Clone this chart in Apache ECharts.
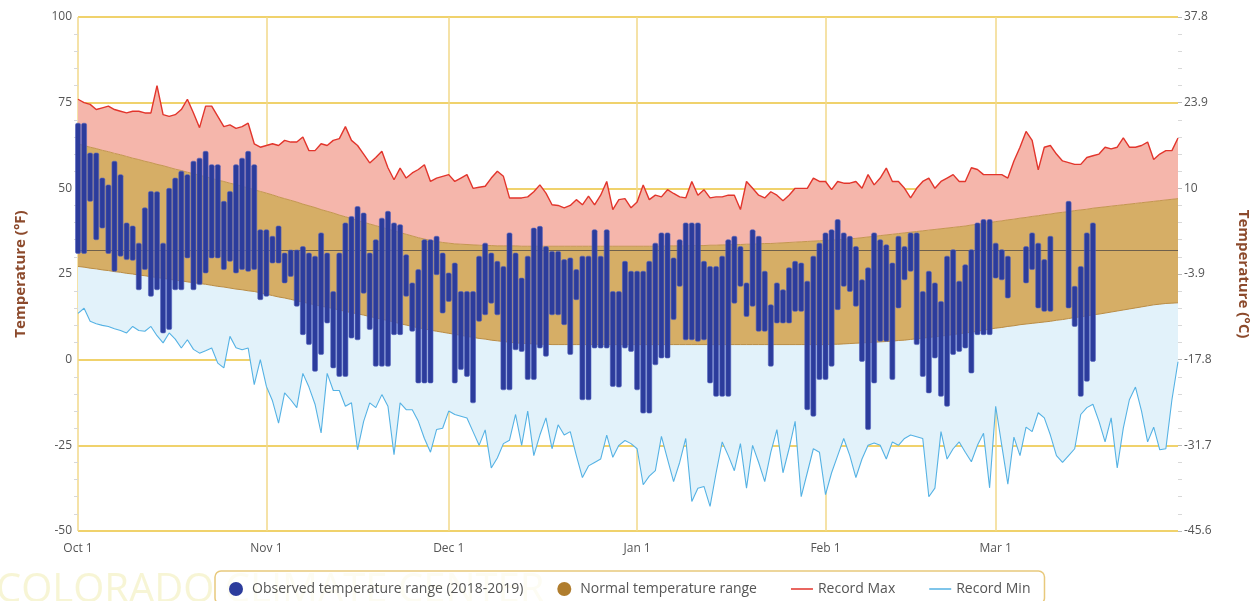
<!DOCTYPE html>
<html>
<head>
<meta charset="utf-8">
<script src="https://cdn.jsdelivr.net/npm/echarts@6/dist/echarts.min.js"></script>
<style>
html,body{margin:0;padding:0;background:#fff;}
#chart{width:1259px;height:601px;}
</style>
</head>
<body>
<div id="chart"></div>
<script>
// ---------- DATA ----------
const months = ['Oct', 'Nov', 'Dec', 'Jan', 'Feb', 'Mar'];
const monthDays = [31, 30, 31, 31, 28, 31];

const recordMax = [76,75,74.5,73,73.5,74,73,72.5,72,72.5,
72.5,72,72,80,71.5,71,71.5,73,76,72,
67.7,74,74,71,68,68.5,67.5,68,69,63,
62,62.5,63,62.5,64,63.5,63.5,65,61,61,
63,62.5,64,64.5,68,64,62.5,60,57.4,59,
60.8,56,52.5,55.9,53,54.5,55.5,56.9,52,53,
53.5,54,52,53,54,50,50.3,50.6,53,55,
53.5,47.2,47.2,47.2,47.5,49,51,48.6,45.2,45,
44.3,45,46.7,45.2,47.7,45.2,48,52,43.8,46.7,
47,44.3,46,51,46.7,48,47.5,49.6,48.5,47.5,
47.2,52,48,49.6,47.2,47.5,47.5,48,48,43.8,
52,50,48,47.2,49,48,46.4,48,50,50,
50,53,52,52,49.6,52,51.5,51.5,52,50,
54,51,53,55.9,52,52,50,47.2,50,52,
53,50,52,53,54,52,52,56,55.5,54,
54,54,54,53,58,62,66.6,64,55.4,62,
62.5,60,58,57.5,57,57,59,59.5,60,62,
61.5,62,64.7,62,62,62.5,63.5,58.4,60,61,
61,64.7];

const recordMin = [13.5,15,11.2,10.5,10,9.7,9,8.5,7.8,9.7,
8.5,8.3,9.7,7,4.9,7.8,6,3.4,5.8,3,
1.9,2.6,3.4,-1,-2.4,6.8,3.5,2.9,3.4,-7.3,
0,-7.8,-12,-18.5,-9.7,-11.7,-14,-4,-8,-13,
-21.4,-4,-9,-9,-13.6,-12.6,-26.3,-18,-12.6,-14,
-10.2,-13.6,-27.7,-12.6,-14.6,-14.6,-18,-23,-27,-20.4,
-20,-15,-16,-16.5,-17,-21,-25,-20.5,-31.6,-28.7,
-24.5,-23.5,-16,-25,-15,-28,-22,-17,-26,-19,
-22,-21,-28,-34.4,-31,-30,-29,-22,-28.5,-25,
-23.6,-24.5,-26,-36.5,-34,-32.4,-22.4,-29,-35.6,-30,
-23,-41.4,-37.5,-37,-42.8,-33,-24,-28,-32.4,-24.5,
-37.5,-25,-30,-35.6,-27,-20.4,-33,-26,-18,-40,
-33,-26,-27,-39.4,-33,-28,-23,-28,-34.4,-29,
-25,-24.3,-25,-29,-24,-25,-23,-22,-22.5,-23,
-40,-37.5,-21,-29,-26,-24,-27,-29.8,-25,-21.5,
-37.4,-13.6,-25,-36.3,-22.6,-28,-19.7,-21,-15.5,-17,
-22,-28,-30,-28,-26,-16,-14,-13,-18,-24,
-17,-31.6,-20,-11.7,-8,-15,-24,-19.7,-26.3,-26,
-11.7,-0.6];

const normalHigh = [63,62.5,62,61.6,61.1,60.7,60.2,59.8,59.3,58.8,
58.4,57.9,57.5,57,56.6,56.1,55.6,55.2,54.7,54.3,
53.8,53.4,52.9,52.4,52,51.5,51.1,50.6,50.1,49.6,
49.1,48.6,48.1,47.5,47,46.5,46,45.4,44.9,44.4,
43.8,43.3,42.8,42.2,41.7,41.2,40.6,40.1,39.6,39.1,
38.6,38.1,37.6,37.1,36.6,36.1,35.6,35.2,34.8,34.5,
34.2,34,33.8,33.7,33.6,33.5,33.4,33.3,33.3,33.2,
33.2,33.2,33.2,33.1,33.1,33.1,33.1,33.1,33.1,33.1,
33.1,33.1,33.1,33.1,33.1,33.1,33.1,33.1,33.1,33.1,
33.1,33.1,33.1,33.1,33.1,33.1,33.1,33.2,33.2,33.2,
33.2,33.3,33.3,33.3,33.4,33.4,33.5,33.5,33.6,33.6,
33.7,33.7,33.8,33.9,33.9,34,34.1,34.2,34.3,34.4,
34.5,34.6,34.7,34.8,34.9,35,35.1,35.3,35.4,35.6,
35.8,36,36.2,36.4,36.6,36.8,37,37.2,37.4,37.6,
37.8,38,38.2,38.4,38.6,38.8,39,39.3,39.5,39.8,
40,40.3,40.5,40.8,41,41.3,41.5,41.8,42,42.3,
42.5,42.8,43,43.2,43.5,43.7,43.9,44.2,44.4,44.6,
44.8,45,45.2,45.4,45.6,45.8,46,46.2,46.4,46.6,
46.8,47];

const normalLow = [27.2,27,26.7,26.5,26.2,26,25.7,25.5,25.2,25,
24.7,24.5,24.2,24,23.7,23.5,23.2,23,22.7,22.5,
22.2,22,21.7,21.4,21.2,20.9,20.6,20.4,20.1,19.9,
19.5,19.1,18.7,18.3,18,17.6,17.2,16.8,16.4,16,
15.6,15.3,14.9,14.5,14.1,13.7,13.4,13,12.6,12.2,
11.8,11.4,11,10.5,10.1,9.7,9.3,9,8.6,8.3,
8,7.7,7.4,7.1,6.8,6.5,6.2,6,5.7,5.5,
5.3,5.1,4.9,4.8,4.7,4.6,4.5,4.5,4.4,4.4,
4.4,4.4,4.4,4.4,4.4,4.4,4.4,4.4,4.4,4.4,
4.4,4.4,4.4,4.4,4.4,4.4,4.4,4.4,4.4,4.4,
4.4,4.4,4.4,4.4,4.4,4.4,4.4,4.4,4.4,4.4,
4.4,4.4,4.4,4.4,4.4,4.4,4.4,4.4,4.4,4.4,
4.4,4.4,4.4,4.4,4.5,4.5,4.6,4.7,4.8,4.9,
5,5.1,5.2,5.3,5.4,5.6,5.7,5.9,6.1,6.3,
6.5,6.7,6.9,7.1,7.3,7.6,7.8,8,8.3,8.6,
8.9,9.2,9.4,9.7,9.9,10.2,10.4,10.6,10.8,11,
11.2,11.5,11.7,12,12.3,12.5,12.8,13.1,13.3,13.6,
13.9,14.2,14.5,14.8,15.1,15.4,15.7,16,16.2,16.4,
16.5,16.6];

const obsHigh = [69,69,60.3,60.3,53,51,57.9,54,39.9,39,
34,44.3,49.1,49,34,50,53,55,54,57.9,
58.8,60.8,56.9,56.9,46.2,49.1,56.9,58.8,60.8,56.9,
37.9,37.9,36,39,31.1,32,32,33,31.1,30.2,
37,31.1,19.9,31.1,39.9,41.8,44.7,42.8,31.1,35,
41.3,43.3,39.9,39.4,30.6,22.4,26.3,35,35,36,
31.1,25.3,28.2,19.9,19.9,19.9,30.2,34,31.1,28.7,
27.2,37,31.1,23.8,30.2,38.4,38.9,33,31.6,31.6,
29.2,29.7,26.3,30.2,30.2,37.9,30.2,37.9,19.9,19.9,
28.7,25.8,25.8,25.8,28.7,34,37,37,29.7,35,
39.9,39.9,39.9,28.7,27.2,27.2,30.2,35,36,33,
22.4,37.9,36,25.8,16,22.4,20.4,26.8,28.7,28.2,
22.9,30.2,34,37,37.9,40.9,37,36,33,23.3,
26.8,37,35,33.5,28.2,36,33,37,37,19.9,
25.8,22.4,17,30.2,32.1,22.9,27.7,32.1,39.9,40.9,
40.9,34,32.1,30.2,null,null,33,37,34,29.2,
36,null,null,46.2,21.4,27.2,37,39.9,null,null,
null,null,null,null,null,null,null,null,null,null,
null,null];

const obsLow = [31,31,46.2,35,38.4,31,25.8,30.2,29.2,29,
20.4,26.3,18.5,20.4,7.8,8.8,20.4,20.4,29.7,20.4,
21.9,25.3,29.7,29.7,26.3,28.7,25.3,26.3,25.8,26.3,
17.5,18.5,28.2,28.2,22.4,24.3,15.6,7.3,4.4,-3.4,
1.5,10.7,-2.4,-4.9,-4.9,6.3,5.8,19.4,8.8,-1.9,
-1.9,-1.9,7.3,7.3,18.5,8.3,-6.8,-6.8,-6.8,24.8,
13.6,17,-6.8,-2.9,-4.9,-12.6,11.2,13.1,16.5,13.1,
-8.8,-8.8,2.9,2.4,-5.8,-5.8,3.4,1,13.1,13.1,
10.2,1.5,17.5,-11.7,-11.7,3.4,3.4,3.4,-7.8,-8,
3.4,2.4,-8.8,-15.6,-15.6,-1.5,0.5,0.5,11.7,21.4,
5.8,5.8,5.4,5.8,-6.8,-10.7,-10.7,-10.7,16.5,21.4,
12.6,15.6,8.3,8.3,-1.9,10.7,10.7,10.7,14.1,14.1,
-14.6,-16.5,-5.8,-5.8,-1.9,14.6,21.4,19.9,15.6,-0.5,
-20.4,-6.8,5.4,5.4,-5.8,15.1,23.3,25.8,4.4,-4.9,
-9.7,0.5,-10.7,-13.6,1.5,2.4,3.4,-3.9,7.3,7.3,
7.3,23.8,23.3,18,null,null,22.4,26.3,15.1,14.1,
14.1,null,null,15.1,9.7,-10.7,-6.3,-0.5,null,null,
null,null,null,null,null,null,null,null,null,null,
null,null];

const yTicksF = [-50, -25, 0, 25, 50, 75, 100];
const freezingF = 32;

// ---------- BUILD ----------
const categories = [];
months.forEach((m, mi) => { for (let d = 1; d <= monthDays[mi]; d++) categories.push(m + ' ' + d); });
const isMonthStart = (v) => / 1$/.test(v);

const lowBand = normalLow.map((v, i) => +(v - recordMin[i]).toFixed(2));
const normBand = normalHigh.map((v, i) => +(v - normalLow[i]).toFixed(2));
const highBand = recordMax.map((v, i) => +(v - normalHigh[i]).toFixed(2));
const obsData = [];
obsHigh.forEach((h, i) => { if (h != null && obsLow[i] != null) obsData.push([i, obsLow[i], h]); });

const FONT = '"Open Sans", "DejaVu Sans", sans-serif';
const chart = echarts.init(document.getElementById('chart'), null, { renderer: 'canvas' });

const fToC = (v) => String(Math.round((v - 32) * 5 / 9 * 10) / 10);
// thin horizontal line icon occupying a 22x14 box
const LINE_ICON = 'path://M0,0L0.01,0L0.01,0.01ZM0,6.3L22,6.3L22,7.7L0,7.7ZM22,14L21.99,14L21.99,13.99Z';

const option = {
  animation: false,
  backgroundColor: '#fff',
  textStyle: { fontFamily: FONT },
  grid: { left: 78, right: 77, top: 17, bottom: 70, containLabel: false },
  graphic: [{
    type: 'text', left: -4, top: 571, z: 0, silent: true,
    style: { text: 'COLORADO CLIMATE CENTER', font: '40px "Open Sans", sans-serif', fill: 'rgba(236,230,150,0.4)' }
  }],
  legend: {
    top: 571, left: 215,
    padding: [11, 14, 8, 14],
    borderColor: '#e8c97c', borderWidth: 1.5, borderRadius: 6,
    backgroundColor: 'rgba(255,255,255,0.7)',
    itemGap: 34, itemWidth: 22, itemHeight: 14,
    textStyle: { fontFamily: FONT, fontSize: 14, color: '#555' },
    data: [
      { name: 'Observed temperature range (2018-2019)', icon: 'circle', itemStyle: { color: '#2c3c9c' } },
      { name: 'Normal temperature range', icon: 'circle', itemStyle: { color: '#b07d2e' } },
      { name: 'Record Max', icon: LINE_ICON, itemStyle: { color: '#e2352c' } },
      { name: 'Record Min', icon: LINE_ICON, itemStyle: { color: '#55b2e4' } }
    ]
  },
  xAxis: {
    type: 'category', data: categories, boundaryGap: false,
    axisLine: { show: false },
    axisTick: { show: false },
    axisLabel: { interval: (i, v) => isMonthStart(v), color: '#555', fontSize: 12, margin: 12, fontFamily: FONT },
    splitLine: { show: true, interval: (i, v) => isMonthStart(v), lineStyle: { color: '#f2d98a', width: 1.5 } }
  },
  yAxis: [{
    type: 'value', min: -50, max: 100, interval: 25,
    name: 'Temperature (°F)', nameLocation: 'middle', nameGap: 50, nameRotate: 90,
    nameTextStyle: { color: '#8c4a2c', fontSize: 15, fontWeight: 'bold', fontFamily: FONT },
    axisLine: { show: false },
    axisTick: { show: false },
    minorTick: { show: true, splitNumber: 5, length: 4, lineStyle: { color: '#d8d8d8' } },
    axisLabel: { color: '#555', fontSize: 12, margin: 6, fontFamily: FONT },
    splitLine: { show: true, lineStyle: { color: '#f0d26c', width: 1.8 } }
  }, {
    type: 'value', min: -50, max: 100, interval: 25, position: 'right',
    name: 'Temperature (°C)', nameLocation: 'middle', nameGap: 58, nameRotate: -90,
    nameTextStyle: { color: '#8c4a2c', fontSize: 15, fontWeight: 'bold', fontFamily: FONT },
    axisLine: { show: false },
    axisTick: { show: true, length: 4, lineStyle: { color: '#bbb' } },
    minorTick: { show: true, splitNumber: 5, length: 4, lineStyle: { color: '#d8d8d8' } },
    axisLabel: { color: '#555', fontSize: 12, margin: 6, fontFamily: FONT, formatter: fToC },
    splitLine: { show: false }
  }],
  series: [
    {
      name: 'Record Min', type: 'line', data: recordMin, stack: 'clim', stackStrategy: 'all',
      symbol: 'none', showSymbol: false, silent: true, z: 2,
      color: '#55b2e4',
      lineStyle: { color: '#55b2e4', width: 1.1 }
    },
    {
      name: 'lowBand', type: 'line', data: lowBand, stack: 'clim', stackStrategy: 'all',
      symbol: 'none', showSymbol: false, silent: true, z: 1,
      lineStyle: { color: '#b98c45', width: 1 },
      areaStyle: { color: '#e2f2fa', opacity: 1 }
    },
    {
      name: 'Normal temperature range', type: 'line', data: normBand, stack: 'clim', stackStrategy: 'all',
      symbol: 'none', showSymbol: false, silent: true, z: 1,
      color: '#b07d2e',
      lineStyle: { color: '#c49650', width: 1 },
      areaStyle: { color: '#d6ae66', opacity: 1 }
    },
    {
      name: 'Record Max', type: 'line', data: highBand, stack: 'clim', stackStrategy: 'all',
      symbol: 'none', showSymbol: false, silent: true, z: 1,
      color: '#e2352c',
      lineStyle: { color: '#e2352c', width: 1.4 },
      areaStyle: { color: '#f5b6ab', opacity: 1 },
      markLine: {
        silent: true, symbol: 'none', label: { show: false },
        lineStyle: { color: '#6f604c', width: 1, type: 'solid' },
        data: [{ yAxis: freezingF }]
      }
    },
    {
      name: 'Observed temperature range (2018-2019)', type: 'custom', z: 5,
      color: '#2c3c9c',
      data: obsData,
      encode: { x: 0, y: [1, 2] },
      renderItem: (params, api) => {
        const top = api.coord([api.value(0), api.value(2)]);
        const bot = api.coord([api.value(0), api.value(1)]);
        const w = 5;
        return {
          type: 'rect',
          shape: { x: top[0] - w / 2, y: top[1], width: w, height: bot[1] - top[1], r: 1.5 },
          style: { fill: '#2c3c9c', stroke: '#5262bd', lineWidth: 0.6 }
        };
      }
    }
  ]
};
chart.setOption(option);
</script>
</body>
</html>
